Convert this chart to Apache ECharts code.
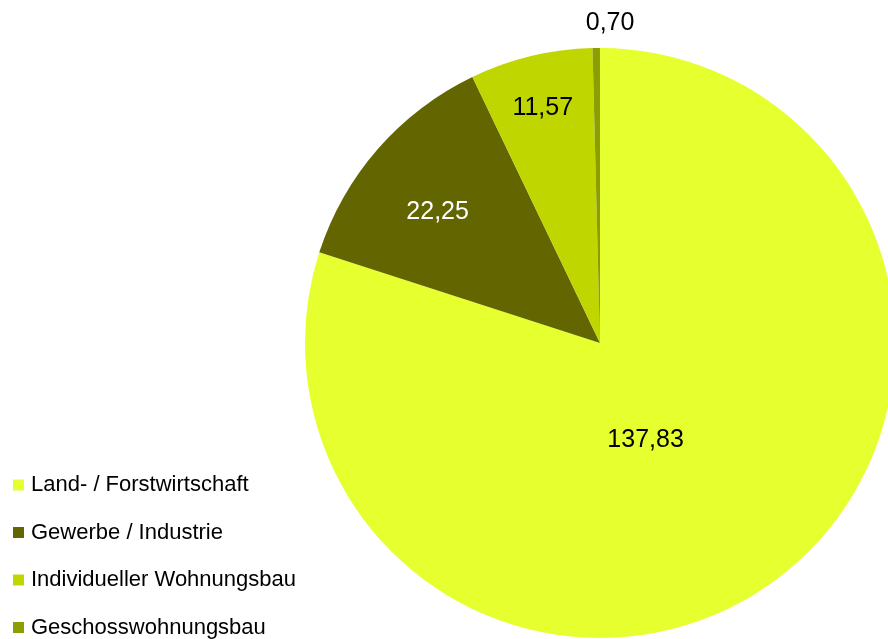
<!DOCTYPE html>
<html>
<head>
<meta charset="utf-8">
<script src="https://cdn.jsdelivr.net/npm/echarts@6/dist/echarts.min.js"></script>
<style>
  html, body { margin: 0; padding: 0; background: #fff; }
  #chart { width: 888px; height: 639px; }
</style>
</head>
<body>
<div id="chart"></div>
<script>
// Flächennutzung (Werte aus der Vorlage)
var categories = ['Land- / Forstwirtschaft', 'Gewerbe / Industrie', 'Individueller Wohnungsbau', 'Geschosswohnungsbau'];
var values = [137.83, 22.25, 11.57, 0.70];
var colors = ['#e6ff2e', '#636600', '#bfd600', '#8c9e00'];
var labelColors = ['#000', '#fff', '#000', '#000'];
// Verschiebung der Beschriftung gegenüber der Standardposition
var labelOffsets = [[-43, -25], [-49, -32], [-22, -89], [12, -169]];

var chart = echarts.init(document.getElementById('chart'));

var pieData = categories.map(function (name, i) {
  return {
    name: name,
    value: values[i],
    itemStyle: { color: colors[i] },
    label: { color: labelColors[i], offset: labelOffsets[i] }
  };
});

var option = {
  animation: false,
  textStyle: { fontFamily: 'Liberation Sans, Arial, sans-serif' },
  legend: {
    orient: 'vertical',
    left: 13,
    top: 474,
    height: 200,
    padding: 0,
    itemWidth: 11,
    itemHeight: 11,
    itemGap: 25.5,
    icon: 'rect',
    textStyle: {
      fontSize: 22,
      color: '#000',
      padding: [0, 0, 0, 2],
      fontFamily: 'Liberation Sans, Arial, sans-serif'
    },
    data: categories
  },
  series: [{
    type: 'pie',
    center: [600, 343],
    radius: 295,
    startAngle: 90,
    clockwise: true,
    silent: true,
    label: {
      show: true,
      position: 'inside',
      fontSize: 25,
      fontFamily: 'Liberation Sans, Arial, sans-serif',
      formatter: function (p) {
        return p.value.toFixed(2).replace('.', ',');
      }
    },
    labelLine: { show: false },
    itemStyle: { borderWidth: 0 },
    data: pieData
  }]
};

chart.setOption(option);
</script>
</body>
</html>
